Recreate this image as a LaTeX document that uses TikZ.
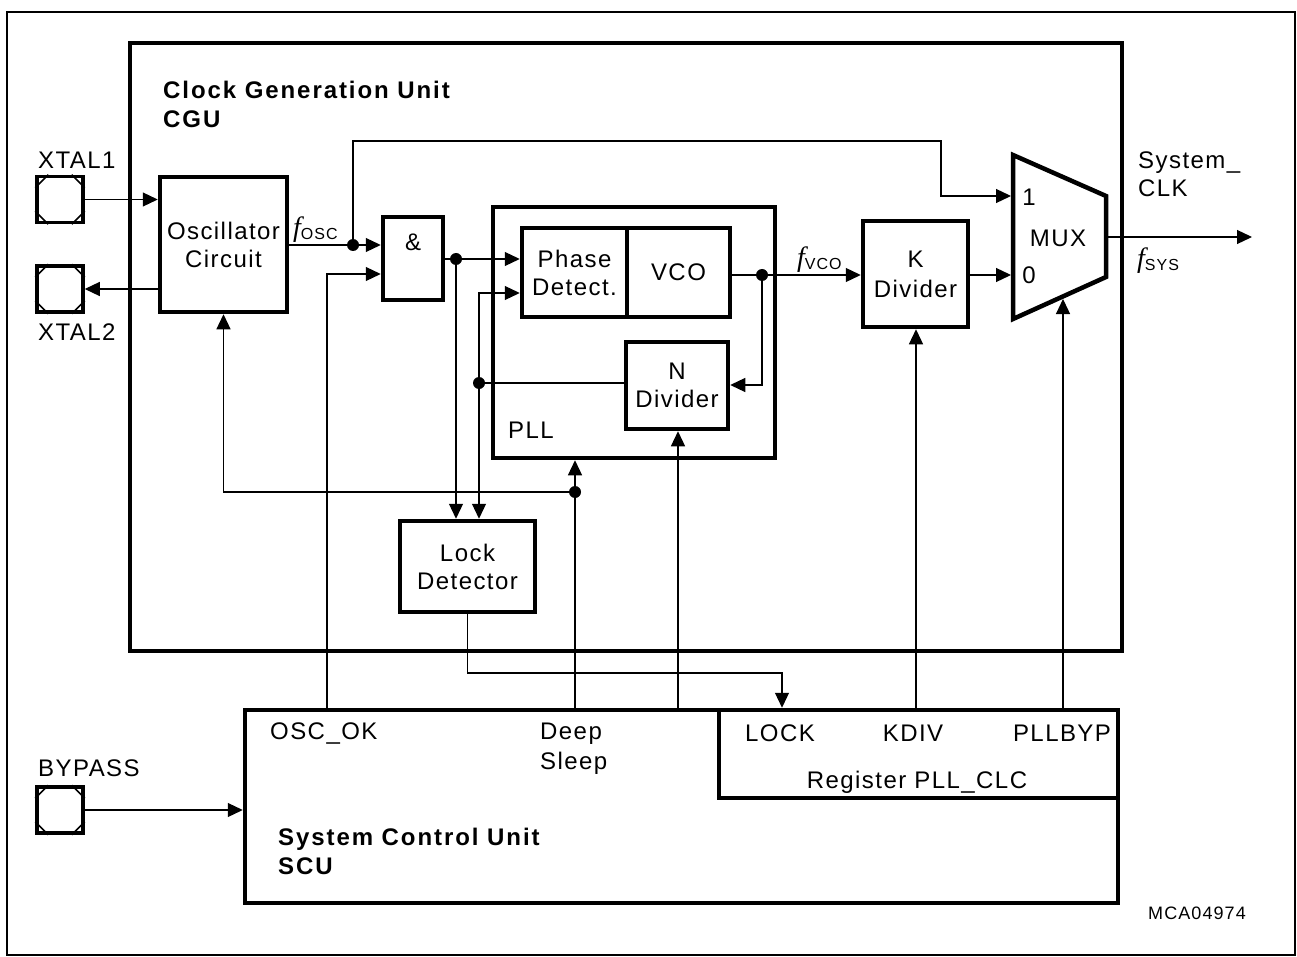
\documentclass[tikz,border=0pt]{standalone}
\usepackage{fontspec}
\setmainfont{Liberation Sans}[LetterSpace=6]
\newfontfamily\serif{Liberation Serif}
\usetikzlibrary{arrows.meta,calc,positioning}
\newcommand{\fq}[1]{{\fontsize{28}{28}\selectfont\serif\itshape f}\raisebox{-3pt}{\fontsize{16}{16}\selectfont #1}}

\begin{document}
\begin{tikzpicture}[x=1pt, y=-1pt,
    every node/.style={font=\fontsize{24}{28}\selectfont, inner sep=0pt},
    blk/.style={draw, line width=4.5pt, align=center},
    wire/.style={line width=1.2pt},
    sig/.style={wire, -{Triangle[length=15pt,width=14pt]}},
    padbox/.style={draw, line width=3.5pt, minimum size=46pt},
    jdot/.style={circle, fill, inner sep=0pt, minimum size=12pt},
    title/.style={anchor=west, align=left, font=\fontsize{24}{29}\selectfont\bfseries\addfontfeature{LetterSpace=8}}]
    \useasboundingbox (0,0) rectangle (1297,957);
    \draw[line width=2pt] (7,12) rectangle (1295,955);

    % Clock generation unit
    \node[blk, minimum width=992pt, minimum height=608pt] (cgu) at (626,347) {};
    \node[title] (cgut) at (163,104) {Clock Generation Unit\\CGU};

    % Pads
    \foreach \p/\y in {xa/199.5, xb/289, bp/810} {
        \node[padbox] (\p) at (60,\y) {};
        \draw[line width=1.5pt] ($(\p.north west)+(0,13)$) -- ($(\p.north west)+(13,0)$);
        \draw[line width=1.5pt] ($(\p.north east)+(0,13)$) -- ($(\p.north east)+(-13,0)$);
        \draw[line width=1.5pt] ($(\p.south west)+(0,-13)$) -- ($(\p.south west)+(13,0)$);
        \draw[line width=1.5pt] ($(\p.south east)+(0,-13)$) -- ($(\p.south east)+(-13,0)$);
    }
    \node[anchor=west] (xal) at (38,160) {XTAL1};
    \node[anchor=west] (xbl) at (38,332) {XTAL2};
    \node[anchor=west] (bpl) at (38,768) {BYPASS};

    % Blocks
    \node[blk, minimum width=127pt, minimum height=135pt] (osc) at (223.5,244.5) {Oscillator\\Circuit};
    \node[blk, minimum width=60pt, minimum height=83pt] (andg) at (413,258.5) {};
    \node (andl) at (413,242) {\&};
    \node[blk, minimum width=282pt, minimum height=251pt] (pll) at (634,332.5) {};
    \node[anchor=west] (plll) at (508,430) {PLL};
    \node[blk, minimum width=105pt, minimum height=89pt] (pd) at (574.5,272.5) {Phase\\Detect.};
    \node[blk, minimum width=103pt, minimum height=89pt] (vco) at (678.5,272.5) {VCO};
    \node[blk, minimum width=102pt, minimum height=87pt] (ndiv) at (677,385.5) {N\\Divider};
    \node[blk, minimum width=135pt, minimum height=91pt] (lock) at (467.5,566.5) {Lock\\Detector};
    \node[blk, minimum width=105pt, minimum height=106pt, font=\fontsize{24}{30}\selectfont] (kdiv) at (915.5,274) {K\\Divider};

    % Multiplexer
    \draw[line width=4.5pt, line join=miter] (1013,155) -- (1106,196) -- (1106,277) -- (1013,319) -- cycle;
    \coordinate (mux1) at (1011,196);
    \coordinate (mux0) at (1011,275);
    \coordinate (muxo) at (1106,237);
    \coordinate (muxs) at (1063,299);
    \node (m1) at (1029,197) {1};
    \node (m0) at (1029,275) {0};
    \node (mxl) at (1058,238) {MUX};

    % System control unit
    \node[blk, minimum width=873pt, minimum height=193pt] (scu) at (681.5,806.5) {};
    \node[blk, minimum width=399pt, minimum height=88pt] (reg) at (918.5,754) {};
    \node[anchor=west] (oskl) at (270,733) {OSC\_OK};
    \node[anchor=north west, align=left, font=\fontsize{24}{30}\selectfont] (dsll) at (540,723) {Deep\\Sleep};
    \node (lkl) at (780,733) {LOCK};
    \node (kdl) at (913,733) {KDIV};
    \node (pbl) at (1062,733) {PLLBYP};
    \node (regl) at (917,782) {Register PLL\_CLC};
    \node[title] (scut) at (278,851) {System Control Unit\\SCU};
    \node[font=\fontsize{18}{20}\selectfont] (fig) at (1197,913) {MCA04974};

    % Clock path
    \draw[sig] (xa.east) -- (xa.east -| osc.west);
    \draw[sig] (osc.west |- xb.east) -- (xb.east);
    \node[jdot] (d1) at (353,245) {};
    \node[anchor=base west] (fosc) at (293,237) {\fq{OSC}};
    \draw[wire] (osc.east |- d1) -- (d1.center);
    \draw[sig] (d1.center) -- (d1 -| andg.west);
    \coordinate (byp) at (941,141);
    \draw[sig] (d1.center) |- (byp) |- (mux1);
    \coordinate (oscok) at (327,710);
    \draw[sig] (oscok) |- (andg.west |- 0,274);
    \node[jdot] (d2) at (456,259) {};
    \draw[wire] (andg.east |- d2) -- (d2.center);
    \draw[sig] (d2.center) -- (d2 -| pd.west);
    \draw[sig] (d2.center) -- (d2 |- lock.north);
    \node[jdot] (d3) at (479,383) {};
    \draw[wire] (ndiv.west |- d3) -- (d3.center);
    \draw[sig] (d3.center) |- (pd.west |- 0,293);
    \draw[sig] (d3.center) -- (d3 |- lock.north);
    \node[jdot] (d4) at (762,275) {};
    \node[anchor=base west] (fvco) at (797,267) {\fq{VCO}};
    \draw[wire] (vco.east |- d4) -- (d4.center);
    \draw[sig] (d4.center) -- (d4 -| kdiv.west);
    \draw[sig] (d4.center) |- (ndiv.east |- 0,385);
    \draw[sig] (kdiv.east |- mux0) -- (mux0);
    \coordinate (clk) at (1252,237);
    \draw[sig] (muxo) -- (clk);
    \node[anchor=base west, align=left] (clkl) at (1138,197) {System\_\\CLK};
    \node[anchor=base west] (fsys) at (1137,268) {\fq{SYS}};

    % Control lines
    \coordinate (dslp) at (575,710);
    \node[jdot] (d5) at (575,492) {};
    \draw[wire] (dslp) -- (d5.center);
    \draw[sig] (d5.center) -- (d5 |- pll.south);
    \draw[sig] (d5.center) -| (osc.south);
    \coordinate (nds) at (678,710);
    \draw[sig] (nds) -- (nds |- ndiv.south);
    \coordinate (kds) at (916,710);
    \draw[sig] (kds) -- (kds |- kdiv.south);
    \coordinate (pbs) at (1063,710);
    \draw[sig] (pbs) -- (muxs);
    \coordinate (lk) at (782,673);
    \draw[sig] (lock.south) |- (lk) -- (lk |- reg.north);
    \draw[sig] (bp.east) -- (bp.east -| scu.west);
\end{tikzpicture}
\end{document}
